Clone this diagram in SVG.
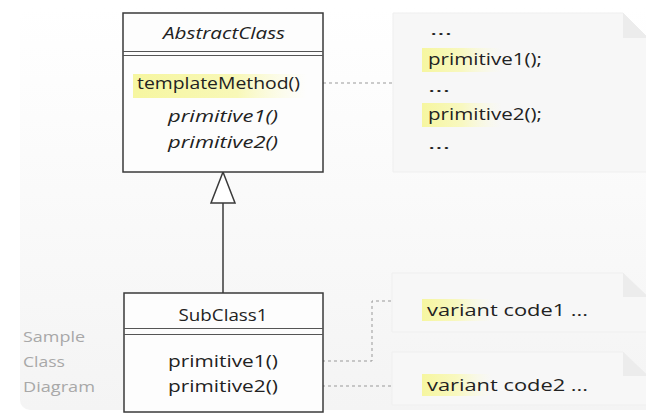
<svg xmlns="http://www.w3.org/2000/svg" width="646" height="414" viewBox="0 0 646 414">
<style>
  .box { fill: #fdfdfd; stroke: #3a3a3a; stroke-width: 1.5; }
  .sep { stroke: #555; stroke-width: 1; }
  .t { font-family: "Open Sans", "DejaVu Sans", sans-serif; font-size: 15.5px; fill: #222222; }
  .it { font-style: italic; }
  .gray { font-family: "Open Sans", "DejaVu Sans", sans-serif; font-size: 15px; fill: #a8a8a8; }
  .note { fill: #f7f7f7; stroke: #efefef; stroke-width: 1; }
  .fold { fill: #ececec; }
  .dash { fill: none; stroke: #999999; stroke-width: 1; stroke-dasharray: 3 3; }
  .solid { fill: none; stroke: #3a3a3a; stroke-width: 1.5; }
</style>
<defs>
  <linearGradient id="bg" x1="0" y1="0" x2="0" y2="1">
    <stop offset="0" stop-color="#ffffff"/>
    <stop offset="1" stop-color="#f4f4f4"/>
  </linearGradient>
  <linearGradient id="hl" x1="0" y1="0" x2="1" y2="0">
    <stop offset="0" stop-color="#f6f6a0"/>
    <stop offset="0.6" stop-color="#f8f8b8"/>
    <stop offset="1" stop-color="#fbfbd8" stop-opacity="0"/>
  </linearGradient>
  <linearGradient id="hl2" x1="0" y1="0" x2="1" y2="0">
    <stop offset="0" stop-color="#f6f6a0"/>
    <stop offset="0.5" stop-color="#f8f8c0"/>
    <stop offset="1" stop-color="#fbfbe0" stop-opacity="0"/>
  </linearGradient>
</defs>
<rect x="20" y="8" width="640" height="402" rx="10" fill="url(#bg)"/>

<g id="connectors">
  <path class="dash" d="M305 83 H393"/>
  <path class="dash" d="M280 361 H372 V301 H393"/>
  <path class="dash" d="M280 386 H393"/>
  <path class="solid" d="M223 203 V293"/>
  <polygon points="223,172 211,203 235,203" fill="#ffffff" stroke="#3a3a3a" stroke-width="1.5"/>
</g>

<g id="AbstractClass">
  <rect class="box" x="123" y="13" width="200" height="159"/>
  <line class="sep" x1="123" y1="51.5" x2="323" y2="51.5"/>
  <line class="sep" x1="123" y1="55.5" x2="323" y2="55.5"/>
  <text class="t it" x="224" y="39" text-anchor="middle" textLength="122" lengthAdjust="spacingAndGlyphs">AbstractClass</text>
  <rect x="133" y="74" width="174" height="24" fill="url(#hl)"/>
  <text class="t" x="137" y="89" textLength="163" lengthAdjust="spacingAndGlyphs">templateMethod()</text>
  <text class="t it" x="168" y="122" textLength="110" lengthAdjust="spacingAndGlyphs">primitive1()</text>
  <text class="t it" x="168" y="148" textLength="110" lengthAdjust="spacingAndGlyphs">primitive2()</text>
</g>

<g id="SubClass1">
  <rect class="box" x="124" y="293" width="199" height="119"/>
  <line class="sep" x1="124" y1="328.5" x2="323" y2="328.5"/>
  <line class="sep" x1="124" y1="334.5" x2="323" y2="334.5"/>
  <text class="t" x="223" y="321" text-anchor="middle" textLength="89" lengthAdjust="spacingAndGlyphs">SubClass1</text>
  <text class="t" x="168" y="367" textLength="110" lengthAdjust="spacingAndGlyphs">primitive1()</text>
  <text class="t" x="168" y="392" textLength="110" lengthAdjust="spacingAndGlyphs">primitive2()</text>
</g>

<g id="label">
  <text class="gray" x="23" y="342" textLength="62" lengthAdjust="spacingAndGlyphs">Sample</text>
  <text class="gray" x="23" y="367" textLength="42" lengthAdjust="spacingAndGlyphs">Class</text>
  <text class="gray" x="23" y="392" textLength="72" lengthAdjust="spacingAndGlyphs">Diagram</text>
</g>

<g id="note1">
  <path class="note" d="M393 13 H623 L648 38 V172 H393 Z"/>
  <path class="fold" d="M623 13 V38 H648 Z"/>
  <text class="t" x="430" y="35" textLength="22" lengthAdjust="spacingAndGlyphs">...</text>
  <rect x="422" y="48" width="80" height="24" fill="url(#hl2)"/>
  <text class="t" x="428" y="65" textLength="114" lengthAdjust="spacingAndGlyphs">primitive1();</text>
  <text class="t" x="428" y="92" textLength="22" lengthAdjust="spacingAndGlyphs">...</text>
  <rect x="422" y="103" width="80" height="24" fill="url(#hl2)"/>
  <text class="t" x="428" y="120" textLength="114" lengthAdjust="spacingAndGlyphs">primitive2();</text>
  <text class="t" x="428" y="149" textLength="22" lengthAdjust="spacingAndGlyphs">...</text>
</g>

<g id="note2">
  <path class="note" d="M392 273 H623 L648 297 V332 H392 Z"/>
  <path class="fold" d="M623 273 V297 H648 Z"/>
  <rect x="422" y="299" width="70" height="22" fill="url(#hl2)"/>
  <text class="t" x="427" y="316" textLength="161" lengthAdjust="spacingAndGlyphs">variant code1 ...</text>
</g>

<g id="note3">
  <path class="note" d="M392 352 H623 L648 376 V405 H392 Z"/>
  <path class="fold" d="M623 352 V376 H648 Z"/>
  <rect x="422" y="374" width="70" height="22" fill="url(#hl2)"/>
  <text class="t" x="427" y="391" textLength="161" lengthAdjust="spacingAndGlyphs">variant code2 ...</text>
</g>
</svg>
